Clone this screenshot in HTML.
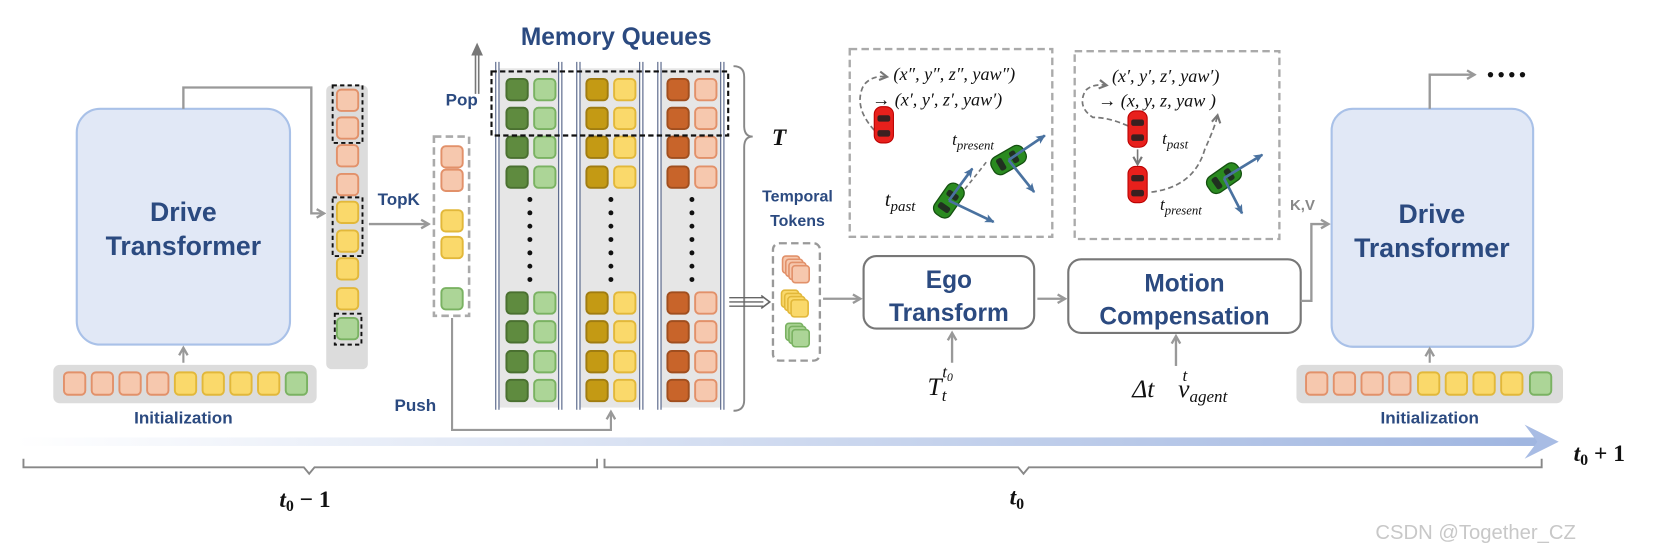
<!DOCTYPE html>
<html><head><meta charset="utf-8"><style>
html,body{margin:0;padding:0;background:#fff}
svg{display:block}
.b{font-family:"Liberation Sans",sans-serif;font-weight:bold;fill:#2b4a80}
.m{font-family:"Liberation Serif",serif;font-style:italic;fill:#111}
</style></head><body>
<svg width="1676" height="558" viewBox="0 0 1572 523" preserveAspectRatio="none" xmlns="http://www.w3.org/2000/svg">
<defs>
<marker id="ga" markerWidth="10" markerHeight="10" refX="8" refY="5" orient="auto" markerUnits="userSpaceOnUse"><path d="M1,1 L8,5 L1,9" fill="none" stroke="#999" stroke-width="2.2"/></marker>
<marker id="ba" markerWidth="10" markerHeight="10" refX="8" refY="5" orient="auto" markerUnits="userSpaceOnUse"><path d="M0,1 L9,5 L0,9 L2,5Z" fill="#4a72a0"/></marker>
<marker id="da" markerWidth="10" markerHeight="10" refX="8" refY="5" orient="auto" markerUnits="userSpaceOnUse"><path d="M1,1 L8,5 L1,9" fill="none" stroke="#777" stroke-width="2"/></marker>
<linearGradient id="tg" x1="0" x2="1"><stop offset="0" stop-color="#fff"/><stop offset="1" stop-color="#9fb5e0"/></linearGradient>
<g id="car"><rect x="-9" y="-17" width="18" height="34" rx="7" fill="#e8201c" stroke="#b00" stroke-width="1"/><rect x="-6" y="-9" width="12" height="6" rx="2" fill="#3a2020"/><rect x="-6" y="5" width="12" height="6" rx="2" fill="#3a2020"/></g>
<g id="gcar"><rect x="-9" y="-17" width="18" height="34" rx="7" fill="#2a8a20" stroke="#145010" stroke-width="1.2"/><rect x="-6" y="-9" width="12" height="6" rx="2" fill="#203020"/><rect x="-6" y="5" width="12" height="6" rx="2" fill="#203020"/></g>
</defs>

<!-- Left Drive Transformer -->
<rect x="72" y="102" width="200" height="221" rx="22" fill="#e1e8f6" stroke="#a9c1e8" stroke-width="2"/>
<text class="b" x="172" y="207" font-size="25" text-anchor="middle">Drive</text>
<text class="b" x="172" y="239" font-size="25" text-anchor="middle">Transformer</text>
<rect x="50" y="342" width="247" height="36" rx="6" fill="#dcdcdc"/>
<g stroke-width="1.8">
<rect x="60" y="349" width="20" height="21" rx="4" fill="#f6c8ae" stroke="#e2916a"/>
<rect x="86" y="349" width="20" height="21" rx="4" fill="#f6c8ae" stroke="#e2916a"/>
<rect x="112" y="349" width="20" height="21" rx="4" fill="#f6c8ae" stroke="#e2916a"/>
<rect x="138" y="349" width="20" height="21" rx="4" fill="#f6c8ae" stroke="#e2916a"/>
<rect x="164" y="349" width="20" height="21" rx="4" fill="#fad96b" stroke="#e2b83a"/>
<rect x="190" y="349" width="20" height="21" rx="4" fill="#fad96b" stroke="#e2b83a"/>
<rect x="216" y="349" width="20" height="21" rx="4" fill="#fad96b" stroke="#e2b83a"/>
<rect x="242" y="349" width="20" height="21" rx="4" fill="#fad96b" stroke="#e2b83a"/>
<rect x="268" y="349" width="20" height="21" rx="4" fill="#acd597" stroke="#7ab262"/>
</g>
<text class="b" x="172" y="397" font-size="16" text-anchor="middle">Initialization</text>
<line x1="172" y1="340" x2="172" y2="326" stroke="#999" stroke-width="2" marker-end="url(#ga)"/>
<polyline points="172,102 172,82 292,82 292,200 304,200" fill="none" stroke="#999" stroke-width="2.2" marker-end="url(#ga)"/>

<!-- Column -->
<rect x="306" y="80" width="39" height="266" rx="5" fill="#dcdcdc"/>
<g stroke-width="1.8">
<rect x="316" y="84" width="20" height="20" rx="4" fill="#f6c8ae" stroke="#e2916a"/>
<rect x="316" y="110" width="20" height="20" rx="4" fill="#f6c8ae" stroke="#e2916a"/>
<rect x="316" y="136" width="20" height="20" rx="4" fill="#f6c8ae" stroke="#e2916a"/>
<rect x="316" y="163" width="20" height="20" rx="4" fill="#f6c8ae" stroke="#e2916a"/>
<rect x="316" y="189" width="20" height="20" rx="4" fill="#fad96b" stroke="#e2b83a"/>
<rect x="316" y="216" width="20" height="20" rx="4" fill="#fad96b" stroke="#e2b83a"/>
<rect x="316" y="242" width="20" height="20" rx="4" fill="#fad96b" stroke="#e2b83a"/>
<rect x="316" y="270" width="20" height="20" rx="4" fill="#fad96b" stroke="#e2b83a"/>
<rect x="316" y="298" width="20" height="20" rx="4" fill="#acd597" stroke="#7ab262"/>
</g>
<g fill="none" stroke="#111" stroke-width="1.8" stroke-dasharray="4,3">
<rect x="312" y="80" width="28" height="54"/>
<rect x="312" y="185" width="28" height="55"/>
<rect x="314" y="294" width="25" height="29"/>
</g>
<text class="b" x="374" y="192" font-size="16" text-anchor="middle">TopK</text>
<line x1="346" y1="210" x2="402" y2="210" stroke="#999" stroke-width="2.2" marker-end="url(#ga)"/>

<rect x="407" y="128" width="33" height="168" fill="none" stroke="#aaa" stroke-width="2.4" stroke-dasharray="7,4"/>
<g stroke-width="1.8">
<rect x="414" y="137" width="20" height="20" rx="4" fill="#f6c8ae" stroke="#e2916a"/>
<rect x="414" y="159" width="20" height="20" rx="4" fill="#f6c8ae" stroke="#e2916a"/>
<rect x="414" y="197" width="20" height="20" rx="4" fill="#fad96b" stroke="#e2b83a"/>
<rect x="414" y="222" width="20" height="20" rx="4" fill="#fad96b" stroke="#e2b83a"/>
<rect x="414" y="270" width="20" height="20" rx="4" fill="#acd597" stroke="#7ab262"/>
</g>
<polyline points="424,298 424,403 573,403 573,386" fill="none" stroke="#999" stroke-width="2" marker-end="url(#ga)"/>
<text class="b" x="370" y="385" font-size="16">Push</text>

<!-- Memory Queues -->
<text class="b" x="578" y="42" font-size="23" text-anchor="middle">Memory Queues</text>
<text class="b" x="418" y="99" font-size="16">Pop</text>
<line x1="446" y1="88" x2="446" y2="48" stroke="#777" stroke-width="1.5"/>
<line x1="449" y1="88" x2="449" y2="48" stroke="#777" stroke-width="1.5"/>
<path d="M442,52 L447.5,40 L453,52Z" fill="#777"/>
<g id="mq">
<rect x="468" y="64" width="56" height="318" fill="#e6e6e6"/>
<line x1="465" y1="58" x2="465" y2="384" stroke="#4a5a80" stroke-width="1"/><line x1="468" y1="58" x2="468" y2="384" stroke="#4a5a80" stroke-width="1"/>
<line x1="524" y1="58" x2="524" y2="384" stroke="#4a5a80" stroke-width="1"/><line x1="527" y1="58" x2="527" y2="384" stroke="#4a5a80" stroke-width="1"/>
</g>
<use href="#mq" x="76"/><use href="#mq" x="152"/>
<g stroke-width="1.8">
<!-- group template rows -->
<g id="rows">
<rect x="475" y="74" width="20" height="20" rx="4" fill="#5f8b3f" stroke="#4a7030"/><rect x="501" y="74" width="20" height="20" rx="4" fill="#acd597" stroke="#7ab262"/>
<rect x="475" y="101" width="20" height="20" rx="4" fill="#5f8b3f" stroke="#4a7030"/><rect x="501" y="101" width="20" height="20" rx="4" fill="#acd597" stroke="#7ab262"/>
<rect x="475" y="128" width="20" height="20" rx="4" fill="#5f8b3f" stroke="#4a7030"/><rect x="501" y="128" width="20" height="20" rx="4" fill="#acd597" stroke="#7ab262"/>
<rect x="475" y="156" width="20" height="20" rx="4" fill="#5f8b3f" stroke="#4a7030"/><rect x="501" y="156" width="20" height="20" rx="4" fill="#acd597" stroke="#7ab262"/>
<rect x="475" y="274" width="20" height="20" rx="4" fill="#5f8b3f" stroke="#4a7030"/><rect x="501" y="274" width="20" height="20" rx="4" fill="#acd597" stroke="#7ab262"/>
<rect x="475" y="301" width="20" height="20" rx="4" fill="#5f8b3f" stroke="#4a7030"/><rect x="501" y="301" width="20" height="20" rx="4" fill="#acd597" stroke="#7ab262"/>
<rect x="475" y="329" width="20" height="20" rx="4" fill="#5f8b3f" stroke="#4a7030"/><rect x="501" y="329" width="20" height="20" rx="4" fill="#acd597" stroke="#7ab262"/>
<rect x="475" y="356" width="20" height="20" rx="4" fill="#5f8b3f" stroke="#4a7030"/><rect x="501" y="356" width="20" height="20" rx="4" fill="#acd597" stroke="#7ab262"/>
</g>
</g>
<g stroke-width="1.8">
<g transform="translate(75,0)">
<rect x="475" y="74" width="20" height="20" rx="4" fill="#c49a14" stroke="#a07c10"/><rect x="501" y="74" width="20" height="20" rx="4" fill="#fad96b" stroke="#e2b83a"/>
<rect x="475" y="101" width="20" height="20" rx="4" fill="#c49a14" stroke="#a07c10"/><rect x="501" y="101" width="20" height="20" rx="4" fill="#fad96b" stroke="#e2b83a"/>
<rect x="475" y="128" width="20" height="20" rx="4" fill="#c49a14" stroke="#a07c10"/><rect x="501" y="128" width="20" height="20" rx="4" fill="#fad96b" stroke="#e2b83a"/>
<rect x="475" y="156" width="20" height="20" rx="4" fill="#c49a14" stroke="#a07c10"/><rect x="501" y="156" width="20" height="20" rx="4" fill="#fad96b" stroke="#e2b83a"/>
<rect x="475" y="274" width="20" height="20" rx="4" fill="#c49a14" stroke="#a07c10"/><rect x="501" y="274" width="20" height="20" rx="4" fill="#fad96b" stroke="#e2b83a"/>
<rect x="475" y="301" width="20" height="20" rx="4" fill="#c49a14" stroke="#a07c10"/><rect x="501" y="301" width="20" height="20" rx="4" fill="#fad96b" stroke="#e2b83a"/>
<rect x="475" y="329" width="20" height="20" rx="4" fill="#c49a14" stroke="#a07c10"/><rect x="501" y="329" width="20" height="20" rx="4" fill="#fad96b" stroke="#e2b83a"/>
<rect x="475" y="356" width="20" height="20" rx="4" fill="#c49a14" stroke="#a07c10"/><rect x="501" y="356" width="20" height="20" rx="4" fill="#fad96b" stroke="#e2b83a"/>
</g>
<g transform="translate(151,0)">
<rect x="475" y="74" width="20" height="20" rx="4" fill="#c8642a" stroke="#a04e1e"/><rect x="501" y="74" width="20" height="20" rx="4" fill="#f6c8ae" stroke="#e2916a"/>
<rect x="475" y="101" width="20" height="20" rx="4" fill="#c8642a" stroke="#a04e1e"/><rect x="501" y="101" width="20" height="20" rx="4" fill="#f6c8ae" stroke="#e2916a"/>
<rect x="475" y="128" width="20" height="20" rx="4" fill="#c8642a" stroke="#a04e1e"/><rect x="501" y="128" width="20" height="20" rx="4" fill="#f6c8ae" stroke="#e2916a"/>
<rect x="475" y="156" width="20" height="20" rx="4" fill="#c8642a" stroke="#a04e1e"/><rect x="501" y="156" width="20" height="20" rx="4" fill="#f6c8ae" stroke="#e2916a"/>
<rect x="475" y="274" width="20" height="20" rx="4" fill="#c8642a" stroke="#a04e1e"/><rect x="501" y="274" width="20" height="20" rx="4" fill="#f6c8ae" stroke="#e2916a"/>
<rect x="475" y="301" width="20" height="20" rx="4" fill="#c8642a" stroke="#a04e1e"/><rect x="501" y="301" width="20" height="20" rx="4" fill="#f6c8ae" stroke="#e2916a"/>
<rect x="475" y="329" width="20" height="20" rx="4" fill="#c8642a" stroke="#a04e1e"/><rect x="501" y="329" width="20" height="20" rx="4" fill="#f6c8ae" stroke="#e2916a"/>
<rect x="475" y="356" width="20" height="20" rx="4" fill="#c8642a" stroke="#a04e1e"/><rect x="501" y="356" width="20" height="20" rx="4" fill="#f6c8ae" stroke="#e2916a"/>
</g>
</g>
<g fill="#111">
<g id="dots"><circle cx="497" cy="187" r="2.3"/><circle cx="497" cy="199.5" r="2.3"/><circle cx="497" cy="212" r="2.3"/><circle cx="497" cy="224.5" r="2.3"/><circle cx="497" cy="237" r="2.3"/><circle cx="497" cy="249.5" r="2.3"/><circle cx="497" cy="262" r="2.3"/></g>
<use href="#dots" x="76"/><use href="#dots" x="152"/>
</g>
<rect x="461" y="67" width="222" height="60" fill="none" stroke="#111" stroke-width="2" stroke-dasharray="5,3"/>
<path d="M688,62 Q698,62 698,72 L698,118 Q698,128 706,128 Q698,128 698,138 L698,375 Q698,385 688,385" fill="none" stroke="#888" stroke-width="1.8"/>
<text x="724" y="136" font-family="Liberation Serif,serif" font-style="italic" font-weight="bold" font-size="22" fill="#111">T</text>
<g stroke="#666" stroke-width="1.3"><line x1="684" y1="279" x2="716" y2="279"/><line x1="684" y1="283" x2="716" y2="283"/><line x1="684" y1="287" x2="716" y2="287"/></g>
<path d="M714,277 L722,283 L714,289" fill="none" stroke="#666" stroke-width="1.5"/>

<!-- Temporal tokens -->
<text class="b" x="748" y="189" font-size="15" text-anchor="middle">Temporal</text>
<text class="b" x="748" y="212" font-size="15" text-anchor="middle">Tokens</text>
<rect x="725" y="228" width="44" height="110" rx="6" fill="none" stroke="#999" stroke-width="2.2" stroke-dasharray="7,4"/>
<g stroke-width="1.5">
<rect x="734" y="240" width="16" height="16" rx="3" fill="#f6c8ae" stroke="#e2916a"/><rect x="737" y="243" width="16" height="16" rx="3" fill="#f6c8ae" stroke="#e2916a"/><rect x="740" y="246" width="16" height="16" rx="3" fill="#f6c8ae" stroke="#e2916a"/><rect x="743" y="249" width="16" height="16" rx="3" fill="#f6c8ae" stroke="#e2916a"/>
<rect x="733" y="272" width="16" height="16" rx="3" fill="#fad96b" stroke="#e2b83a"/><rect x="736" y="275" width="16" height="16" rx="3" fill="#fad96b" stroke="#e2b83a"/><rect x="739" y="278" width="16" height="16" rx="3" fill="#fad96b" stroke="#e2b83a"/><rect x="742" y="281" width="16" height="16" rx="3" fill="#fad96b" stroke="#e2b83a"/>
<rect x="737" y="303" width="16" height="16" rx="3" fill="#acd597" stroke="#7ab262"/><rect x="740" y="306" width="16" height="16" rx="3" fill="#acd597" stroke="#7ab262"/><rect x="743" y="309" width="16" height="16" rx="3" fill="#acd597" stroke="#7ab262"/>
</g>
<line x1="772" y1="280" x2="807" y2="280" stroke="#999" stroke-width="2.2" marker-end="url(#ga)"/>

<!-- Ego Transform -->
<rect x="810" y="240" width="160" height="68" rx="12" fill="#fff" stroke="#777" stroke-width="2"/>
<text class="b" x="890" y="270" font-size="23" text-anchor="middle">Ego</text>
<text class="b" x="890" y="301" font-size="23" text-anchor="middle">Transform</text>
<line x1="973" y1="280" x2="999" y2="280" stroke="#999" stroke-width="2.2" marker-end="url(#ga)"/>
<rect x="1002" y="243" width="218" height="69" rx="12" fill="#fff" stroke="#777" stroke-width="2"/>
<text class="b" x="1111" y="273" font-size="23" text-anchor="middle">Motion</text>
<text class="b" x="1111" y="304" font-size="23" text-anchor="middle">Compensation</text>
<line x1="893" y1="340" x2="893" y2="312" stroke="#999" stroke-width="2.2" marker-end="url(#ga)"/>
<line x1="1103" y1="343" x2="1103" y2="315" stroke="#999" stroke-width="2.2" marker-end="url(#ga)"/>
<text class="m" x="870" y="370" font-size="24">T<tspan font-size="16" dy="6">t</tspan><tspan font-size="16" dx="-4" dy="-22">t</tspan><tspan font-size="11" dy="3">0</tspan></text>
<text class="m" x="1062" y="372" font-size="24" font-style="normal">Δ<tspan font-style="italic">t</tspan></text>
<text class="m" x="1105" y="372" font-size="24">v<tspan font-size="16" dy="5">agent</tspan><tspan font-size="16" dx="-42" dy="-20">t</tspan></text>
<polyline points="1220,282 1230,282 1230,210 1246,210" fill="none" stroke="#999" stroke-width="2.2" marker-end="url(#ga)"/>
<text x="1210" y="197" font-family="Liberation Sans,sans-serif" font-weight="bold" font-size="14" fill="#888">K,V</text>

<!-- Scene 1 -->
<rect x="797" y="46" width="190" height="176" fill="none" stroke="#aaa" stroke-width="2.2" stroke-dasharray="7,4"/>
<text class="m" x="838" y="75" font-size="17" font-style="normal">(<tspan font-style="italic">x″, y″, z″, yaw″</tspan>)</text>
<text class="m" x="818" y="99" font-size="17" font-style="normal">→ (<tspan font-style="italic">x′, y′, z′, yaw′</tspan>)</text>
<path d="M820,122 Q800,100 810,80 Q818,70 832,72" fill="none" stroke="#777" stroke-width="1.6" stroke-dasharray="5,3" marker-end="url(#da)"/>
<use href="#car" x="829" y="117"/>
<text class="m" x="893" y="136" font-size="16">t<tspan font-size="12" dy="4">present</tspan></text>
<text class="m" x="830" y="193" font-size="19">t<tspan font-size="14" dy="5">past</tspan></text>
<path d="M905,177 Q915,165 925,152" fill="none" stroke="#777" stroke-width="1.5" stroke-dasharray="4,3"/>
<use href="#gcar" transform="translate(890,188) rotate(35)"/>
<use href="#gcar" transform="translate(946,150) rotate(60)"/>
<g stroke="#4a72a0" stroke-width="2.5" marker-end="url(#ba)">
<line x1="890" y1="188" x2="912" y2="158"/><line x1="890" y1="188" x2="932" y2="208"/>
<line x1="946" y1="150" x2="980" y2="127"/><line x1="946" y1="150" x2="970" y2="180"/>
</g>
<!-- Scene 2 -->
<rect x="1008" y="48" width="192" height="176" fill="none" stroke="#aaa" stroke-width="2.2" stroke-dasharray="7,4"/>
<text class="m" x="1043" y="77" font-size="17" font-style="normal">(<tspan font-style="italic">x′, y′, z′, yaw′</tspan>)</text>
<text class="m" x="1030" y="100" font-size="17" font-style="normal">→ (<tspan font-style="italic">x, y, z, yaw</tspan> )</text>
<path d="M1058,118 Q1040,110 1025,110 Q1010,100 1018,85 Q1025,78 1038,80" fill="none" stroke="#777" stroke-width="1.6" stroke-dasharray="5,3" marker-end="url(#da)"/>
<path d="M1080,180 Q1120,175 1130,140 Q1140,118 1142,108" fill="none" stroke="#777" stroke-width="1.6" stroke-dasharray="5,3" marker-end="url(#da)"/>
<use href="#car" x="1067" y="121"/>
<line x1="1067" y1="140" x2="1067" y2="154" stroke="#777" stroke-width="1.5" marker-end="url(#da)"/>
<use href="#car" x="1067" y="173"/>
<text class="m" x="1090" y="135" font-size="16">t<tspan font-size="12" dy="4">past</tspan></text>
<text class="m" x="1088" y="197" font-size="16">t<tspan font-size="12" dy="4">present</tspan></text>
<use href="#gcar" transform="translate(1148,167) rotate(55)"/>
<g stroke="#4a72a0" stroke-width="2.5" marker-end="url(#ba)">
<line x1="1148" y1="167" x2="1184" y2="145"/><line x1="1148" y1="167" x2="1165" y2="200"/>
</g>

<!-- Right Drive Transformer -->
<rect x="1249" y="102" width="189" height="223" rx="20" fill="#e1e8f6" stroke="#a9c1e8" stroke-width="2"/>
<text class="b" x="1343" y="209" font-size="25" text-anchor="middle">Drive</text>
<text class="b" x="1343" y="241" font-size="25" text-anchor="middle">Transformer</text>
<polyline points="1341,102 1341,70 1383,70" fill="none" stroke="#999" stroke-width="2.2" marker-end="url(#ga)"/>
<g fill="#111"><circle cx="1398" cy="70" r="2.5"/><circle cx="1408" cy="70" r="2.5"/><circle cx="1418" cy="70" r="2.5"/><circle cx="1428" cy="70" r="2.5"/></g>
<line x1="1341" y1="340" x2="1341" y2="327" stroke="#999" stroke-width="2" marker-end="url(#ga)"/>
<rect x="1216" y="342" width="250" height="36" rx="6" fill="#dcdcdc"/>
<g stroke-width="1.8">
<rect x="1225" y="349" width="20" height="21" rx="4" fill="#f6c8ae" stroke="#e2916a"/>
<rect x="1251" y="349" width="20" height="21" rx="4" fill="#f6c8ae" stroke="#e2916a"/>
<rect x="1277" y="349" width="20" height="21" rx="4" fill="#f6c8ae" stroke="#e2916a"/>
<rect x="1303" y="349" width="20" height="21" rx="4" fill="#f6c8ae" stroke="#e2916a"/>
<rect x="1330" y="349" width="20" height="21" rx="4" fill="#fad96b" stroke="#e2b83a"/>
<rect x="1356" y="349" width="20" height="21" rx="4" fill="#fad96b" stroke="#e2b83a"/>
<rect x="1382" y="349" width="20" height="21" rx="4" fill="#fad96b" stroke="#e2b83a"/>
<rect x="1408" y="349" width="20" height="21" rx="4" fill="#fad96b" stroke="#e2b83a"/>
<rect x="1435" y="349" width="20" height="21" rx="4" fill="#acd597" stroke="#7ab262"/>
</g>
<text class="b" x="1341" y="397" font-size="16" text-anchor="middle">Initialization</text>

<!-- timeline -->
<rect x="15" y="410" width="1432" height="8" fill="url(#tg)"/>
<path d="M1430,398 L1462,414 L1430,430 L1442,414Z" fill="#a8bce4"/>
<text x="1476" y="432" font-family="Liberation Serif,serif" font-style="italic" font-weight="bold" font-size="22" fill="#111">t<tspan font-size="15" dy="4" font-style="normal">0</tspan><tspan dy="-4" font-style="normal"> + 1</tspan></text>
<path d="M22,430 L22,438 L285,438 L290,444 L295,438 L560,438 L560,430" fill="none" stroke="#888" stroke-width="1.8"/>
<path d="M567,430 L567,438 L955,438 L960,444 L965,438 L1446,438 L1446,430" fill="none" stroke="#888" stroke-width="1.8"/>
<text x="262" y="475" font-family="Liberation Serif,serif" font-style="italic" font-weight="bold" font-size="22" fill="#111">t<tspan font-size="15" dy="4" font-style="normal">0</tspan><tspan dy="-4" font-style="normal"> − 1</tspan></text>
<text x="947" y="473" font-family="Liberation Serif,serif" font-style="italic" font-weight="bold" font-size="22" fill="#111">t<tspan font-size="15" dy="4" font-style="normal">0</tspan></text>
<text x="1290" y="505" font-family="Liberation Sans,sans-serif" font-size="19" fill="#c8c8c8">CSDN @Together_CZ</text>
</svg>
</body></html>
